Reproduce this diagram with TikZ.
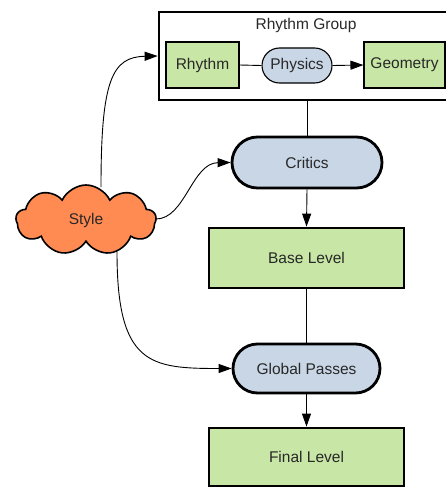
\documentclass[tikz,border=0pt]{standalone}
\usepackage{fontspec}
\setmainfont{Liberation Sans}
\usetikzlibrary{shapes.misc,shapes.symbols,arrows.meta}
\definecolor{boxgreen}{RGB}{200,230,165}
\definecolor{pillblue}{RGB}{200,214,230}
\definecolor{cloudorange}{RGB}{255,138,82}
\definecolor{txt}{RGB}{40,40,40}
\begin{document}
\begin{tikzpicture}[x=1pt,y=-1pt,
  font=\fontsize{15.5}{17}\selectfont,
  every node/.style={text=txt},
  greenbox/.style={draw=black, fill=boxgreen, rectangle, inner sep=0pt},
  bluepill/.style={draw=black, fill=pillblue, rounded rectangle, inner sep=0pt},
  bigline/.style={line width=2.8pt},
  smallline/.style={line width=1.1pt},
  conn/.style={line width=0.9pt, draw=black},
  arr/.style={conn, -{Triangle[length=13pt,width=9pt]}}]
\useasboundingbox (0,0) rectangle (446,487);
% Rhythm group
\node[draw=black, bigline, fill=white, rectangle, minimum width=320pt, minimum height=88pt, inner sep=0pt] (group) at (319,56) {};
\node (grouplabel) at (306,25) {Rhythm Group};
\node[greenbox, smallline, minimum width=73pt, minimum height=46pt] (rhythm) at (202.5,65) {Rhythm};
\node[bluepill, smallline, minimum width=70pt, minimum height=35pt] (physics) at (297,65.5) {Physics};
\node[greenbox, smallline, minimum width=81pt, minimum height=46pt] (geometry) at (404.5,65) {Geometry};
% main column
\node[bluepill, bigline, minimum width=150pt, minimum height=51pt] (critics) at (307,162.5) {Critics};
\node[greenbox, bigline, minimum width=195pt, minimum height=60pt] (base) at (306.5,258) {Base Level};
\node[bluepill, bigline, minimum width=147pt, minimum height=49pt] (global) at (306.5,368.5) {Global Passes};
\node[greenbox, bigline, minimum width=195pt, minimum height=58pt] (final) at (306.5,457) {Final Level};
% cloud
\node[cloud, cloud puffs=9, cloud puff arc=130, cloud ignores aspect, draw=black, line width=1.6pt, fill=cloudorange, minimum width=140pt, minimum height=70pt, inner sep=0pt] (style) at (86,220) {Style};
\coordinate (s1) at (101,187);
\coordinate (s2) at (156,219);
\coordinate (s3) at (117,252);
% connectors
\draw[conn] (rhythm.east) -- (physics.west);
\draw[arr] (physics.east) -- (geometry.west);
\draw[conn] (group.south -| critics.north) -- (critics.north);
\draw[arr] (critics.south) -- (base.north);
\draw[conn] (base.south) -- (global.north);
\draw[arr] (global.south) -- (final.north);
\draw[arr] (s1) .. controls (101,80) and (112,57) .. (group.west);
\draw[arr] (s2) .. controls (185,219) and (192,163) .. (critics.west);
\draw[arr] (s3) .. controls (117,365) and (150,368.5) .. (global.west);
\end{tikzpicture}
\end{document}
